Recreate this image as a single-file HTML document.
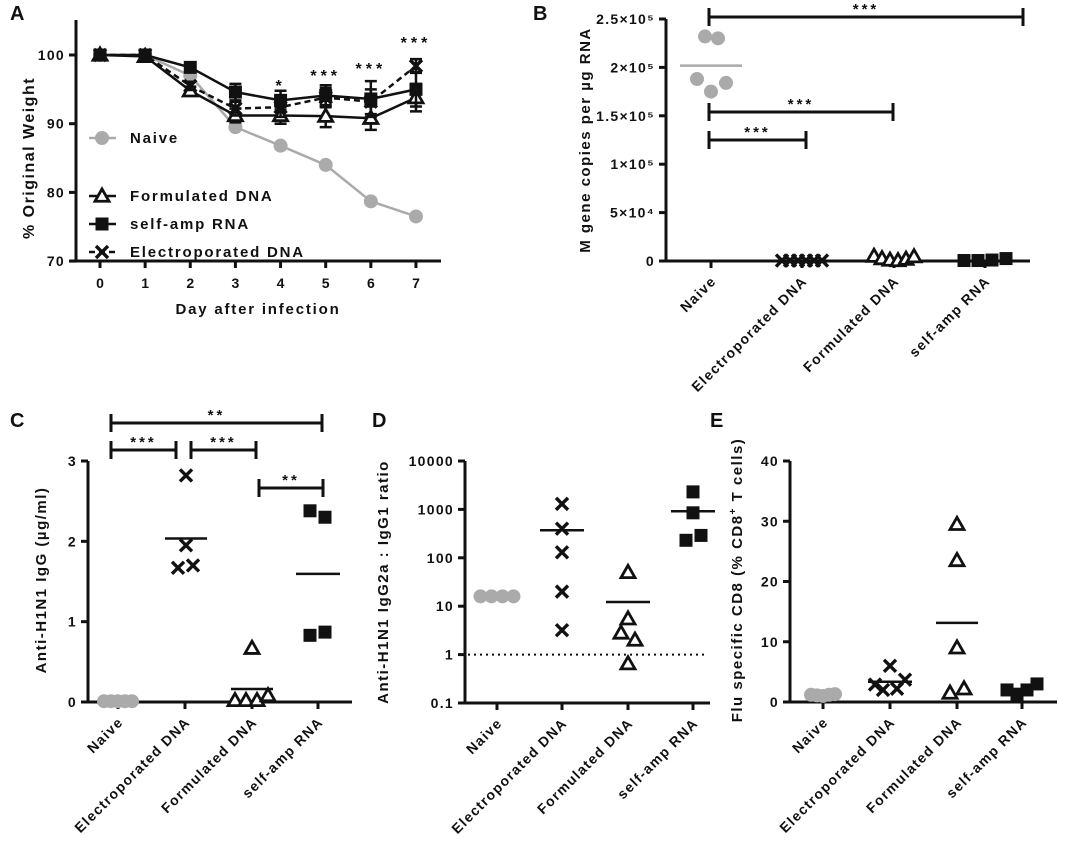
<!DOCTYPE html>
<html><head><meta charset="utf-8"><style>
body{margin:0;background:#fff}
svg{display:block}
text{font-family:"Liberation Sans",Arial,sans-serif;font-weight:bold;fill:#111}
</style></head><body>
<svg id="fig" width="1069" height="847" viewBox="0 0 1069 847" xmlns="http://www.w3.org/2000/svg"></svg>
<script>
// ---------- data ----------
const days=[0,1,2,3,4,5,6,7];
const naiveW=[100,100,97,89.5,86.8,84,78.7,76.5];
const formW=[100,99.8,94.8,91.2,91.2,91.1,90.8,93.8];
const formErr=[0.3,0.5,0.6,1,1.2,1.6,1.7,2];
const rnaW=[100,100,98.2,94.6,93.4,94.1,93.6,95];
const rnaErr=[0.3,0.3,0.6,1.2,1.4,1.5,2.6,2.5];
const epW=[100,100,95.5,92.2,92.4,93.8,93.2,98.4];
const epErr=[0.3,0.3,0.6,1,1.4,1.4,1.8,1];
const aTicks=[70,80,90,100];
const groups=["Naive","Electroporated DNA","Formulated DNA","self-amp RNA"];
const bTickVals=[0,50000,100000,150000,200000,250000];
const bTickLbl=["0","5×10⁴","1×10⁵","1.5×10⁵","2×10⁵","2.5×10⁵"];
const bNaive=[232000,230000,188000,175000,184000];
const bEP=[500,500,500,500,500,500];
const bForm=[5000,2500,1000,500,2000,4500];
const bRNA=[500,500,1000,2500];
const cNaive=[0.01,0.01,0.01,0.01,0.01];
const cEP=[2.82,1.95,1.67,1.7];
const cForm=[0.67,0.02,0.02,0.02,0.08];
const cRNA=[2.38,2.3,0.83,0.87];
const cTicks=[0,1,2,3];
const dNaive=[16,16,16,16];
const dEP=[1300,400,130,20,3.2];
const dForm=[50,5.5,2.8,2,0.65];
const dRNA=[2300,850,230,290];
const dTicks=[0.1,1,10,100,1000,10000];
const eNaive=[1.2,1.1,1,1.2,1.3];
const eEP=[2.9,6,2,2.2,3.7];
const eForm=[29.5,23.5,9,1.5,2.2];
const eRNA=[2,1.3,2,3];
const eTicks=[0,10,20,30,40];

// ---------- helpers ----------
const S=document.getElementById('fig');const NS='http://www.w3.org/2000/svg';
function el(t,a,p){const e=document.createElementNS(NS,t);for(const k in a)e.setAttribute(k,a[k]);(p||S).appendChild(e);return e;}
function txt(x,y,s,a,p){const e=el('text',Object.assign({x:x,y:y},a||{}),p);e.textContent=s;return e;}
function grp(name){const g=el('g',{});
return g;}
function mean(a){return a.reduce((s,v)=>s+v,0)/a.length;}
function marker(type,x,y,g,sz){sz=sz||7;let m;
 if(type==='circle'){m=el('circle',{cx:x,cy:y,r:sz,fill:'#aaa'},g);}
 else if(type==='square'){m=el('rect',{x:x-sz+0.5,y:y-sz+0.5,width:2*sz-1,height:2*sz-1,fill:'#111'},g);}
 else if(type==='tri'){m=el('path',{d:`M${x} ${y-sz}L${x+sz} ${y+sz*0.75}L${x-sz} ${y+sz*0.75}Z`,fill:'#fff',stroke:'#111','stroke-width':2.8},g);}
 else {m=el('path',{d:`M${x-sz+1} ${y-sz+1}L${x+sz-1} ${y+sz-1}M${x+sz-1} ${y-sz+1}L${x-sz+1} ${y+sz-1}`,stroke:'#111','stroke-width':3.4},g);}
 return m;}
function bracket(x1,x2,y,stars,g){el('path',{d:`M${x1} ${y-9}V${y+9}M${x1} ${y}H${x2}M${x2} ${y-9}V${y+9}`,stroke:'#111','stroke-width':3,fill:'none'},g);
 txt((x1+x2)/2,y-3,stars,{'text-anchor':'middle','font-size':15,'font-weight':'normal','letter-spacing':'3'},g);}
function panelLabel(x,y,s){const t=txt(x,y,s,{'font-size':20});
}
function catAxis(g,xs,axisY,x0,x1,fs){el('line',{x1:x0,y1:axisY,x2:x1,y2:axisY,stroke:'#111','stroke-width':3},g);
 xs.forEach((x,i)=>{el('line',{x1:x,y1:axisY,x2:x,y2:axisY+7,stroke:'#111','stroke-width':3},g);
  const t=txt(x+6,axisY+21,groups[i],{'text-anchor':'end','font-size':fs||14,'letter-spacing':'1.3',transform:`rotate(-45 ${x+6} ${axisY+21})`},g);
  
  });}
function yAxis(g,x,yTop,yBot,vals,lbls,fy,fs){el('line',{x1:x,y1:yTop,x2:x,y2:yBot,stroke:'#111','stroke-width':3},g);
 vals.forEach((v,i)=>{const y=fy(v);el('line',{x1:x-7,y1:y,x2:x,y2:y,stroke:'#111','stroke-width':3},g);
  txt(x-11,y+5,lbls[i],{'text-anchor':'end','font-size':fs||14,'letter-spacing':'1.3'},g);});}
function yTitle(g,x,y,s,fs){const t=txt(x,y,s,{'text-anchor':'middle','font-size':fs||15,'letter-spacing':'1.5',transform:`rotate(-90 ${x} ${y})`},g);
 
return t;}
function scatter(g,name,vals,type,cx,fy,spread,meanW,meanCol){const sg=el('g',{},g);

 const n=vals.length;vals.forEach((v,i)=>{const off=n>1?(i-(n-1)/2)*spread:0;const m=marker(type,cx+off,fy(v),sg,7);
 
});
 if(meanW){const mv=mean(vals);const ml=el('line',{x1:cx-meanW,y1:fy(mv),x2:cx+meanW,y2:fy(mv),stroke:meanCol||'#111','stroke-width':2.5},sg);
 
}}

// ---------- Panel A ----------
(function(){const g=grp('panel-a-weight-chart');panelLabel(10,20,'A');
 const xA=d=>100+d*45.14, yA=v=>55+(100-v)*6.87;
 yAxis(g,76,20,261,aTicks,aTicks.map(String),yA,14);
 el('line',{x1:70,y1:261,x2:441,y2:261,stroke:'#111','stroke-width':3},g);
 days.forEach(d=>{el('line',{x1:xA(d),y1:261,x2:xA(d),y2:268,stroke:'#111','stroke-width':3},g);txt(xA(d),288,String(d),{'text-anchor':'middle','font-size':14},g);});
 const xt=txt(258,314,'Day after infection',{'text-anchor':'middle','font-size':15,'letter-spacing':'1.8'},g);

 yTitle(g,34,158,'% Original Weight',16);
 function series(name,vals,err,type,dash,col){const sg=el('g',{},g);

  el('polyline',{points:days.map(d=>xA(d)+','+yA(vals[d])).join(' '),fill:'none',stroke:col,'stroke-width':2.5,'stroke-dasharray':dash||''},sg);
  if(err)days.forEach(d=>{const x=xA(d),a=yA(vals[d]+err[d]),b=yA(vals[d]-err[d]);el('path',{d:`M${x} ${a}V${b}M${x-6} ${a}H${x+6}M${x-6} ${b}H${x+6}`,stroke:'#111','stroke-width':2.5},sg);});
  days.forEach(d=>{const m=marker(type,xA(d),yA(vals[d]),sg,7);
});}
 series('naive-series',naiveW,null,'circle','','#aaa');
 series('formulated-dna-series',formW,formErr,'tri','','#111');
 series('electroporated-dna-series',epW,epErr,'x','6,4','#111');
 series('self-amp-rna-series',rnaW,rnaErr,'square','','#111');
 [[4,'*',91],[5,'***',81],[6,'***',74],[7,'***',48]].forEach(s=>txt(xA(s[0]),s[2],s[1],{'text-anchor':'middle','font-size':16,'font-weight':'normal','letter-spacing':'4'},g));
 const lg=el('g',{},g);

 const L=[['Naive','circle','#aaa',138,''],['Formulated DNA','tri','#111',196,''],['self-amp RNA','square','#111',224,''],['Electroporated DNA','x','#111',252,'6,4']];
 L.forEach(l=>{const e=el('g',{},lg);

  el('line',{x1:89,y1:l[3],x2:116,y2:l[3],stroke:l[2],'stroke-width':2.5,'stroke-dasharray':l[4]},e);marker(l[1],102,l[3],e,7);
  txt(130,l[3]+5,l[0],{'font-size':15,'font-weight':'normal','letter-spacing':'1.8'},e);});
})();

// ---------- Panel B ----------
(function(){const g=grp('panel-b-gene-copies-chart');panelLabel(533,20,'B');
 const yB=v=>261-v/250000*242; const xs=[711,802,894,985];
 yAxis(g,666,19,261,bTickVals,bTickLbl,yB,14);
 catAxis(g,xs,261,660,1030,14);
 yTitle(g,590,140,'M gene copies per µg RNA',15);
 scatter(g,'naive-points',bNaive,'circle',711,yB,0,31,'#aaa');
 g.lastChild.querySelectorAll('circle').forEach((c,i)=>c.setAttribute('cx',[705,718,697,711,726][i]));
 scatter(g,'electroporated-dna-points',bEP,'x',802,yB,8);
 scatter(g,'formulated-dna-points',bForm,'tri',894,yB,8);
 scatter(g,'self-amp-rna-points',bRNA,'square',985,yB,14);
 bracket(709,1023,17,'***',g);bracket(709,893,112,'***',g);bracket(709,806,140,'***',g);
})();

// ---------- Panel C ----------
(function(){const g=grp('panel-c-igg-chart');panelLabel(10,427,'C');
 const yC=v=>702-v/3*241; const xs=[118,185,252,318];
 yAxis(g,88,461,702,cTicks,cTicks.map(String),yC,14);
 catAxis(g,xs,702,82,352,14);
 yTitle(g,46,580,'Anti-H1N1 IgG (µg/ml)',15);
 scatter(g,'naive-points',cNaive,'circle',118,yC,7);
 scatter(g,'electroporated-dna-points',cEP,'x',186,yC,0,21);
 g.lastChild.querySelectorAll('path').forEach((p,i)=>{const dx=[0,0,-8,7][i];p.setAttribute('transform',`translate(${dx},0)`);});
 scatter(g,'formulated-dna-points',cForm,'tri',252,yC,0,21);
 g.lastChild.querySelectorAll('path').forEach((p,i)=>{const dx=[0,-17,-6,5,16][i];p.setAttribute('transform',`translate(${dx},0)`);});
 scatter(g,'self-amp-rna-points',cRNA,'square',318,yC,0,22);
 g.lastChild.querySelectorAll('rect').forEach((p,i)=>{const dx=[-8,7,-8,7][i];p.setAttribute('transform',`translate(${dx},0)`);});
 bracket(111,322,423,'**',g);bracket(111,176,450,'***',g);bracket(191,256,450,'***',g);bracket(259,323,488,'**',g);
})();

// ---------- Panel D ----------
(function(){const g=grp('panel-d-ratio-chart');panelLabel(372,427,'D');
 const yD=v=>703-(Math.log10(v)+1)*48.4; const xs=[497,562,628,693];
 yAxis(g,465,461,703,dTicks,['0.1','1','10','100','1000','10000'],yD,14);
 catAxis(g,xs,703,459,710,14);
 yTitle(g,388,582,'Anti-H1N1 IgG2a : IgG1 ratio',15);
 el('line',{x1:468,y1:yD(1),x2:705,y2:yD(1),stroke:'#111','stroke-width':2,'stroke-dasharray':'2,4'},g);
 scatter(g,'naive-points',dNaive,'circle',497,yD,11);
 scatter(g,'electroporated-dna-points',dEP,'x',562,yD,0,22);
 scatter(g,'formulated-dna-points',dForm,'tri',628,yD,0,22);
 g.lastChild.querySelectorAll('path').forEach((p,i)=>{const dx=[0,0,-7,7,0][i];p.setAttribute('transform',`translate(${dx},0)`);});
 scatter(g,'self-amp-rna-points',dRNA,'square',693,yD,0,22);
 g.lastChild.querySelectorAll('rect').forEach((p,i)=>{const dx=[0,0,-7,8][i];p.setAttribute('transform',`translate(${dx},0)`);});
})();

// ---------- Panel E ----------
(function(){const g=grp('panel-e-cd8-chart');panelLabel(710,427,'E');
 const yE=v=>702-v/40*241; const xs=[823,890,957,1022];
 yAxis(g,790,461,702,eTicks,eTicks.map(String),yE,14);
 catAxis(g,xs,702,784,1057,14);
 const t=yTitle(g,742,580,'Flu specific CD8 (% CD8',15);
 const sp=el('tspan',{dy:-6,'font-size':10},t);sp.textContent='+';
 const sp2=el('tspan',{dy:6},t);sp2.textContent=' T cells)';
 scatter(g,'naive-points',eNaive,'circle',823,yE,6);
 scatter(g,'electroporated-dna-points',eEP,'x',890,yE,0,22);
 g.lastChild.querySelectorAll('path').forEach((p,i)=>{const dx=[-15,0,-7,7,15][i];p.setAttribute('transform',`translate(${dx},0)`);});
 scatter(g,'formulated-dna-points',eForm,'tri',957,yE,0,21);
 g.lastChild.querySelectorAll('path').forEach((p,i)=>{const dx=[0,0,0,-7,7][i];p.setAttribute('transform',`translate(${dx},0)`);});
 scatter(g,'self-amp-rna-points',eRNA,'square',1022,yE,10,0);
})();
</script>
</body></html>
